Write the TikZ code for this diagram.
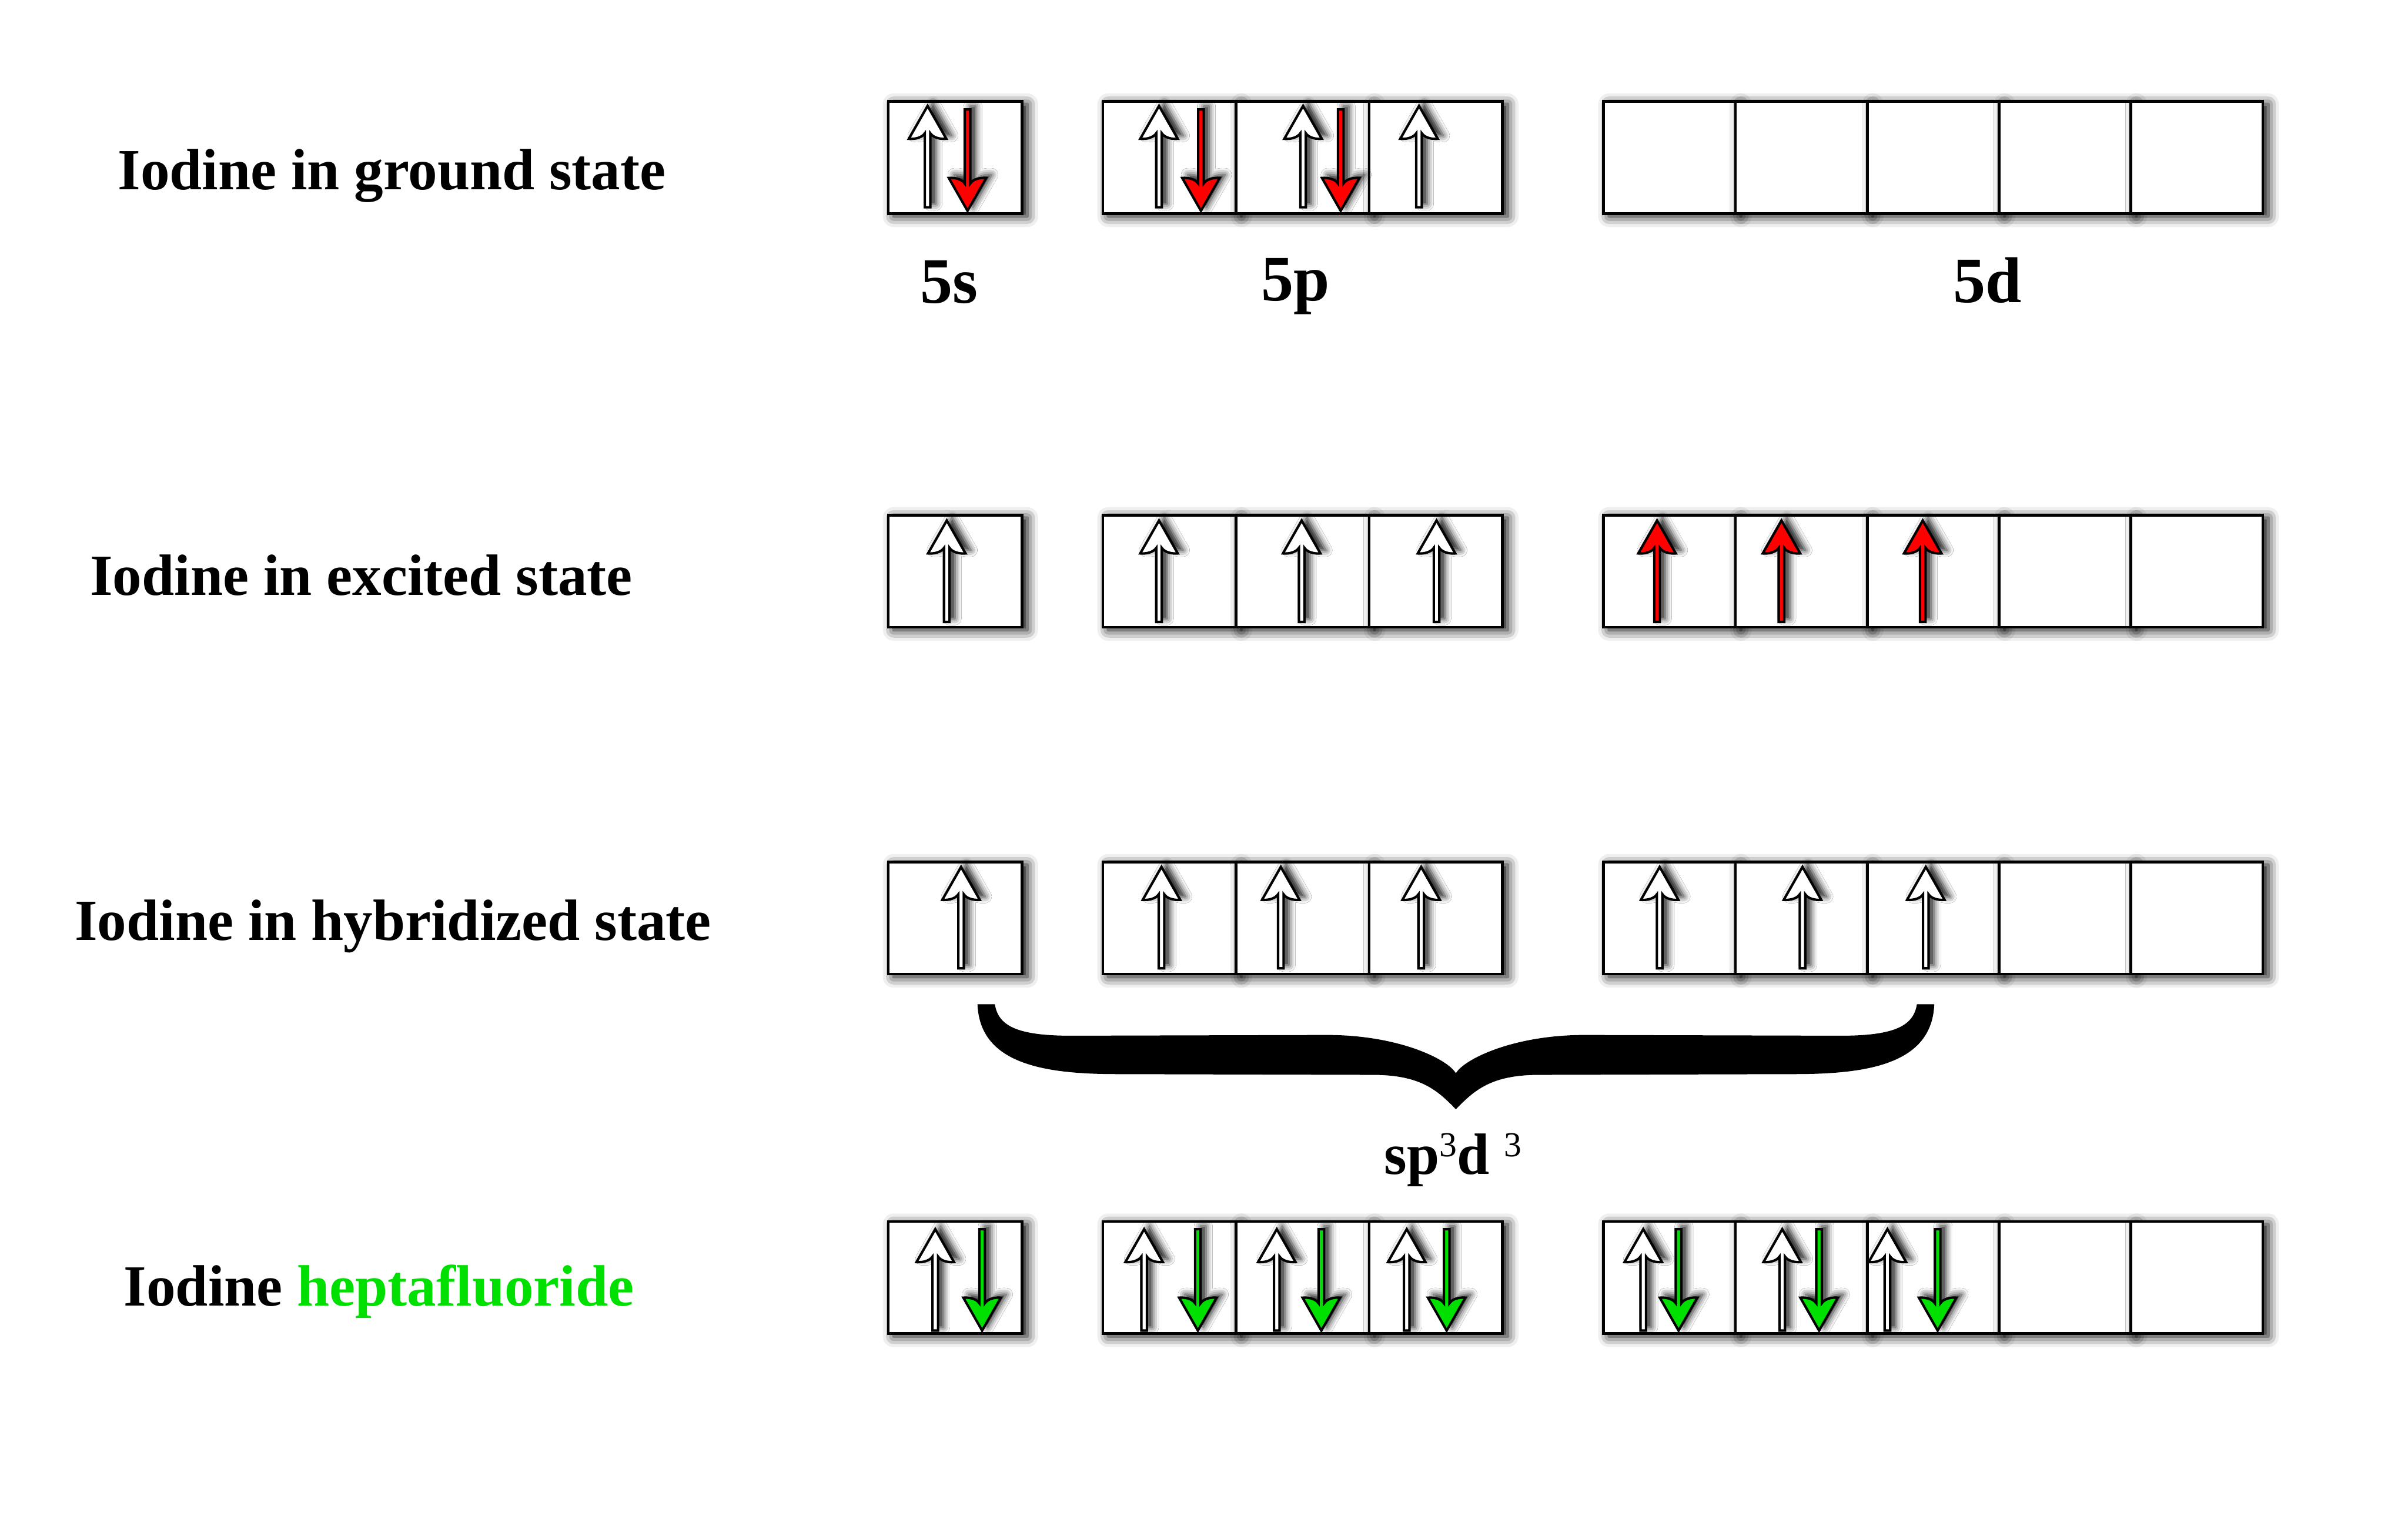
\documentclass[tikz,border=0pt]{standalone}
\usepackage{fontspec}
\setmainfont{Liberation Serif}
\usepackage{tikz}
\usetikzlibrary{positioning, calc, shadows.blur}
\definecolor{spinRed}{HTML}{FF0000}
\definecolor{spinGreen}{HTML}{00E000}

\tikzset{
  orb/.style={draw=black, line width=0.5pt, fill=white,
              minimum width=#1, minimum height=0.73cm,
              inner sep=0pt, outer sep=0pt,
              blur shadow={shadow xshift=1pt, shadow yshift=-0.5pt,
                           shadow blur radius=2pt, shadow opacity=100}},
  orb/.default=0.867cm,
  statelabel/.style={font=\fontsize{10.8}{13}\selectfont\bfseries,
                     inner sep=0pt, anchor=base west},
  shelllabel/.style={font=\fontsize{12}{14}\selectfont\bfseries,
                     inner sep=0pt, anchor=base},
  spin fill/.store in=\spinfill,
  spin fill=white,
  spinshadow/.style={blur shadow={shadow xshift=1pt, shadow yshift=0.6pt,
                     shadow blur radius=1.2pt, shadow opacity=90}},
  spinup/.pic={
    \filldraw[line width=0.45pt, fill=\spinfill, spinshadow]
      (-0.018,-0.33) -- (-0.018,0.152)
      .. controls (-0.035,0.125) and (-0.08,0.112) .. (-0.122,0.116)
      -- (0,0.33) -- (0.122,0.116)
      .. controls (0.08,0.112) and (0.035,0.125) .. (0.018,0.152)
      -- (0.018,-0.33) -- cycle;
  },
  spindown/.pic={
    \filldraw[line width=0.45pt, fill=\spinfill, spinshadow]
      (-0.018,0.33) -- (-0.018,-0.152)
      .. controls (-0.035,-0.125) and (-0.08,-0.112) .. (-0.122,-0.116)
      -- (0,-0.33) -- (0.122,-0.116)
      .. controls (0.08,-0.112) and (0.035,-0.125) .. (0.018,-0.152)
      -- (0.018,0.33) -- cycle;
  }
}

\begin{document}
\begin{tikzpicture}
\useasboundingbox (0,0) rectangle (15.68,-10);

% orbital boxes, one row per state
\foreach \r/\y in {1/-1.026, 2/-3.72, 3/-5.979, 4/-8.32} {
  \node[orb=0.87cm] (s-\r) at (6.219,\y) {};
  \node[orb, anchor=west] (p-\r-1) at (7.181,\y) {};
  \node[orb, right=0pt of p-\r-1] (p-\r-2) {};
  \node[orb, right=0pt of p-\r-2] (p-\r-3) {};
  \foreach \k in {1,...,5}
    \node[orb=0.8584cm] (d-\r-\k) at ({10.442+0.8584*(\k-0.5)},\y) {};
}

% state labels
\node[statelabel] (ground)  at (0.761,-1.234) {Iodine in ground state};
\node[statelabel] (excited) at (0.58,-3.875)  {Iodine in excited state};
\node[statelabel] (hybrid)  at (0.48,-6.125)  {Iodine in hybridized state};
\node[statelabel] (hepta)   at (0.80,-8.503)
  {Iodine \textcolor{spinGreen}{heptafluoride}};

\node[shelllabel] (lbl5s) at (6.18,-1.973)  {5s};
\node[shelllabel] (lbl5p) at (8.435,-1.96)  {5p};
\node[shelllabel] (lbl5d) at (12.94,-1.97)  {5d};

% ground state
\foreach \x in {6.04, 7.547, 8.485, 9.24}
  \pic at (\x,-1.02) {spinup};
\foreach \x in {6.30, 7.82, 8.73}
  \pic[spin fill=spinRed] at (\x,-1.043) {spindown};

% excited state
\foreach \x in {6.165, 7.547, 8.476, 9.354}
  \pic at (\x,-3.72) {spinup};
\foreach \x in {10.79, 11.60, 12.52}
  \pic[spin fill=spinRed] at (\x,-3.72) {spinup};

% hybridized state
\foreach \x in {6.258, 7.563, 8.34, 9.254, 10.807, 11.737, 12.54}
  \pic at (\x,-5.976) {spinup};

% heptafluoride
\foreach \x in {6.09, 7.45, 8.314, 9.16, 10.70, 11.605, 12.29}
  \pic at (\x,-8.335) {spinup};
\foreach \x in {6.395, 7.80, 8.604, 9.42, 10.93, 11.845, 12.617}
  \pic[spin fill=spinGreen] at (\x,-8.335) {spindown};

% brace over the hybrid orbitals
\fill (6.365,-6.54) -- (6.478,-6.54)
  .. controls (6.50,-6.68) and (6.62,-6.745) .. (6.976,-6.745)
  -- (8.64,-6.74)
  .. controls (9.11,-6.74) and (9.43,-6.90) .. (9.48,-6.99)
  .. controls (9.53,-6.90) and (9.85,-6.74) .. (10.32,-6.74)
  -- (11.984,-6.745)
  .. controls (12.34,-6.745) and (12.46,-6.68) .. (12.482,-6.54)
  -- (12.595,-6.54)
  .. controls (12.58,-6.93) and (12.16,-6.995) .. (11.682,-6.995)
  -- (10.02,-7.0)
  .. controls (9.71,-7.0) and (9.60,-7.10) .. (9.48,-7.224)
  .. controls (9.36,-7.10) and (9.25,-7.0) .. (8.94,-7.0)
  -- (7.278,-6.995)
  .. controls (6.80,-6.995) and (6.38,-6.93) .. (6.365,-6.54)
  -- cycle;

\node[font=\fontsize{10.8}{13}\selectfont\bfseries, inner sep=0pt, anchor=base]
  (hybridtype) at (9.46,-7.647)
  {sp\raisebox{3.3pt}{\fontsize{6.5}{7}\selectfont\mdseries 3}d
   \raisebox{3.3pt}{\fontsize{6.5}{7}\selectfont\mdseries 3}};
\end{tikzpicture}
\end{document}
